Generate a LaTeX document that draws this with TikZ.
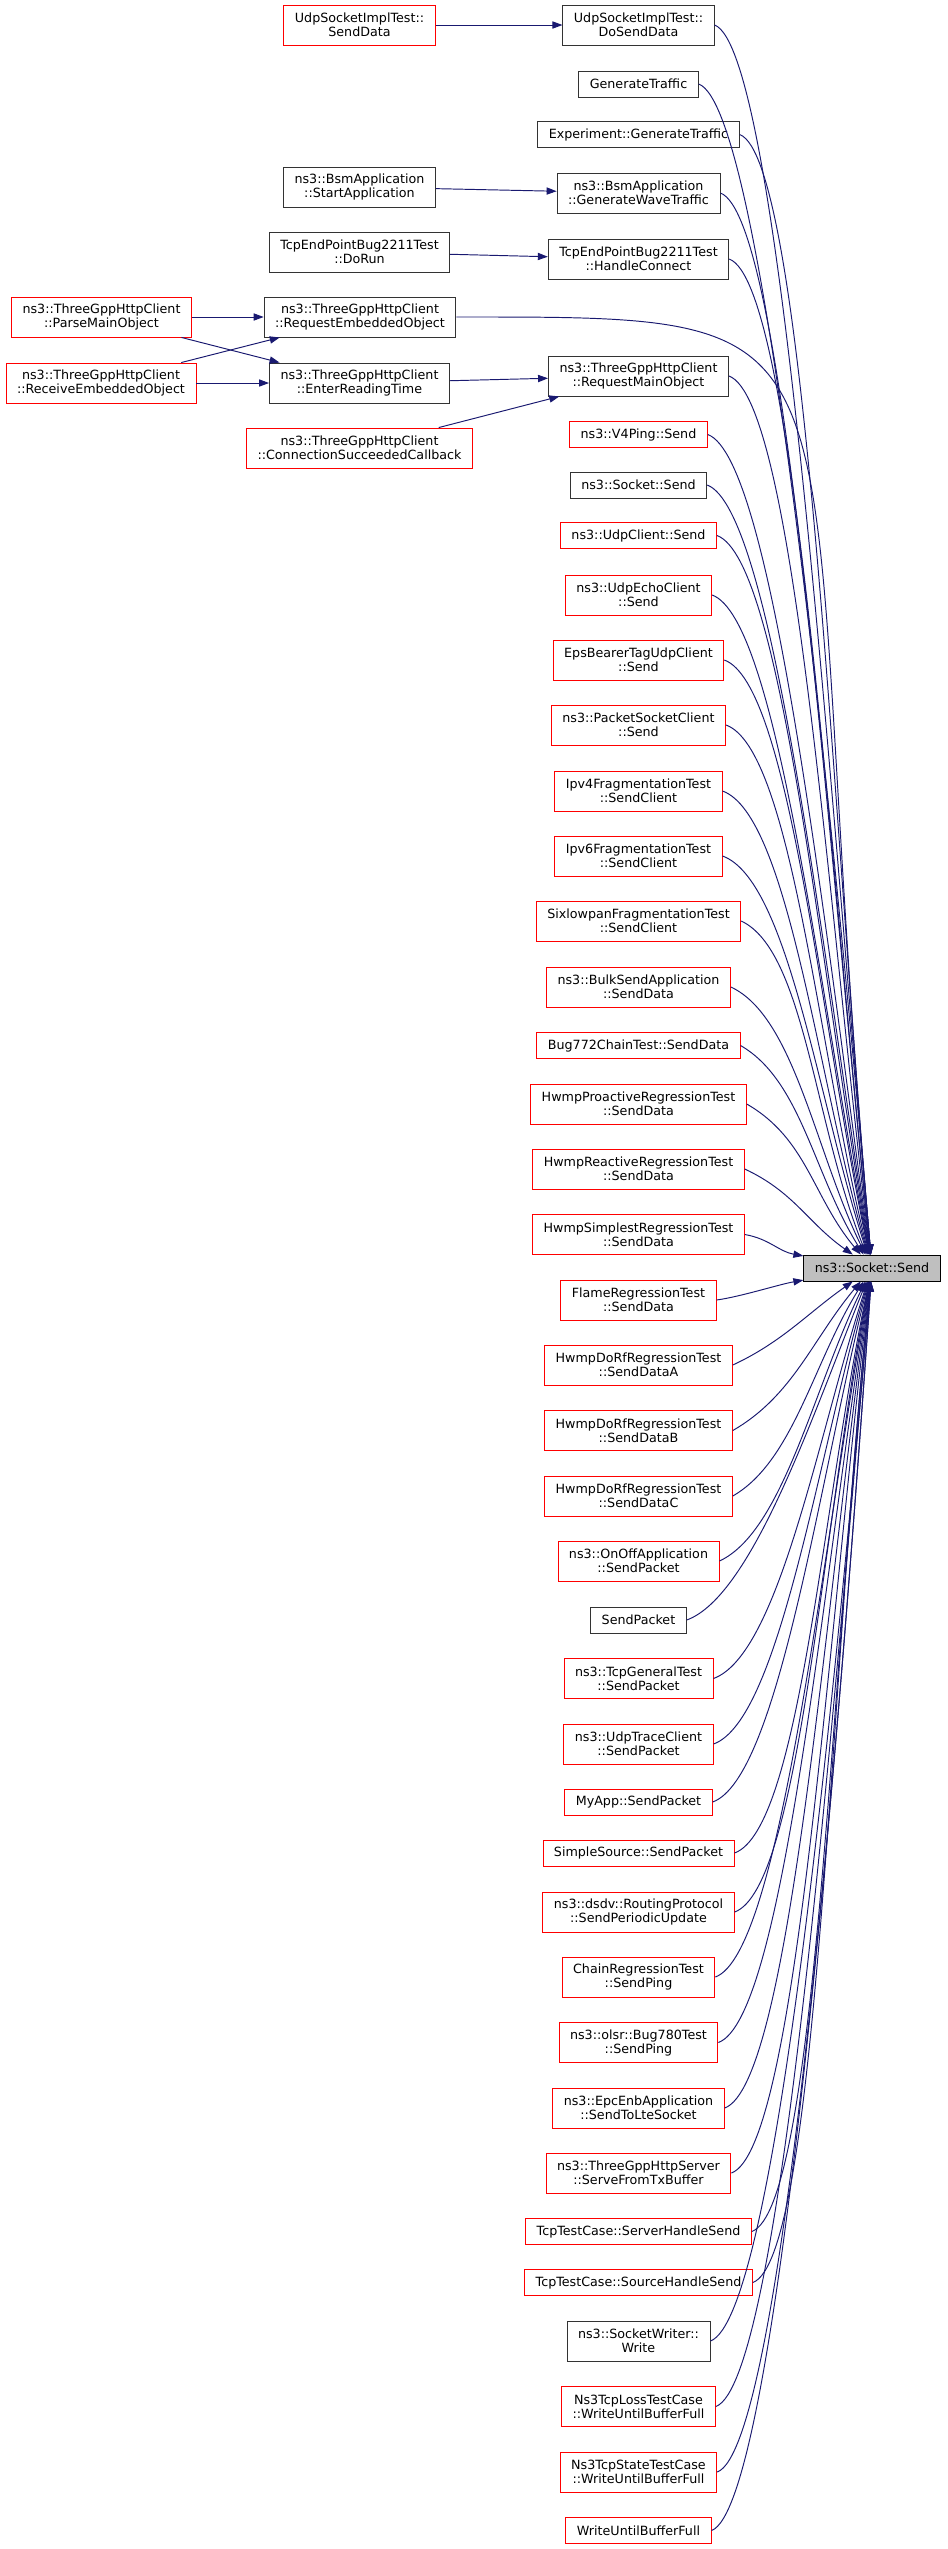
\documentclass[tikz,border=0pt]{standalone}
\usepackage{fontspec}
\setmainfont{DejaVu Sans}
\usepackage{xcolor}
\usetikzlibrary{arrows.meta}
\definecolor{edgeblue}{RGB}{25,25,112}
\definecolor{boxgray}{RGB}{191,191,191}

\begin{document}
% one unit is one pixel of the graph, drawn at a quarter point
\begin{tikzpicture}[x=0.25pt, y=0.25pt,
    fn/.style={draw=black!80, line width=0.225pt, fill=white, align=center,
      inner xsep=2.75pt, inner ysep=0.5pt, minimum height=6.5pt,
      font=\fontsize{3.175}{3.5}\selectfont},
    fnred/.style={fn, draw=red},
    tall/.style={minimum height=10pt},
    call/.style={draw=edgeblue, line width=0.24pt, -{Triangle[length=2.5pt,width=1.8pt]}}]
  \fill[white, use as bounding box] (0,0) rectangle (947,-2549);

  % callers of the callers
  \node[fnred, tall] (parseMain) at (101.5,-317) {ns3::ThreeGppHttpClient\\::ParseMainObject};
  \node[fnred, tall] (receiveEmb) at (101,-383) {ns3::ThreeGppHttpClient\\::ReceiveEmbeddedObject};

  \node[fnred, tall] (sendData) at (359.5,-25) {UdpSocketImplTest::\\SendData};
  \node[fn, tall] (startApp) at (359.5,-187) {ns3::BsmApplication\\::StartApplication};
  \node[fn, tall] (doRun) at (359.5,-252) {TcpEndPointBug2211Test\\::DoRun};
  \node[fn, tall] (reqEmb) at (360,-317) {ns3::ThreeGppHttpClient\\::RequestEmbeddedObject};
  \node[fn, tall] (enterRead) at (359.5,-383) {ns3::ThreeGppHttpClient\\::EnterReadingTime};
  \node[fnred, tall] (connSucc) at (359.5,-448) {ns3::ThreeGppHttpClient\\::ConnectionSucceededCallback};

  % direct callers
  \node[fn, tall] (doSendData) at (638.5,-25) {UdpSocketImplTest::\\DoSendData};
  \node[fn] (genTraffic) at (638.5,-84) {GenerateTraffic};
  \node[fn] (expGen) at (638.5,-134.5) {Experiment::GenerateTraffic};
  \node[fn, tall] (genWave) at (638.5,-193) {ns3::BsmApplication\\::GenerateWaveTraffic};
  \node[fn, tall] (handleConn) at (638.5,-259) {TcpEndPointBug2211Test\\::HandleConnect};
  \node[fn, tall] (reqMain) at (638.5,-376) {ns3::ThreeGppHttpClient\\::RequestMainObject};
  \node[fnred] (v4ping) at (638.5,-434.5) {ns3::V4Ping::Send};
  \node[fn] (sockSend) at (638.5,-485) {ns3::Socket::Send};
  \node[fnred] (udpClient) at (638.5,-535.5) {ns3::UdpClient::Send};
  \node[fnred, tall] (udpEcho) at (638.5,-595) {ns3::UdpEchoClient\\::Send};
  \node[fnred, tall] (epsBearer) at (638.5,-660) {EpsBearerTagUdpClient\\::Send};
  \node[fnred, tall] (packetSock) at (638.5,-725) {ns3::PacketSocketClient\\::Send};
  \node[fnred, tall] (ipv4Frag) at (638.5,-791) {Ipv4FragmentationTest\\::SendClient};
  \node[fnred, tall] (ipv6Frag) at (638.5,-856) {Ipv6FragmentationTest\\::SendClient};
  \node[fnred, tall] (sixlowpan) at (638.5,-921) {SixlowpanFragmentationTest\\::SendClient};
  \node[fnred, tall] (bulkSend) at (638.5,-987) {ns3::BulkSendApplication\\::SendData};
  \node[fnred] (bug772) at (638.5,-1045.5) {Bug772ChainTest::SendData};
  \node[fnred, tall] (hwmpPro) at (638.5,-1104) {HwmpProactiveRegressionTest\\::SendData};
  \node[fnred, tall] (hwmpRe) at (638.5,-1169) {HwmpReactiveRegressionTest\\::SendData};
  \node[fnred, tall] (hwmpSimp) at (638.5,-1234.5) {HwmpSimplestRegressionTest\\::SendData};
  \node[fnred, tall] (flame) at (638.5,-1300) {FlameRegressionTest\\::SendData};
  \node[fnred, tall] (doRfA) at (638.5,-1365) {HwmpDoRfRegressionTest\\::SendDataA};
  \node[fnred, tall] (doRfB) at (638.5,-1430.5) {HwmpDoRfRegressionTest\\::SendDataB};
  \node[fnred, tall] (doRfC) at (638.5,-1496) {HwmpDoRfRegressionTest\\::SendDataC};
  \node[fnred, tall] (onOff) at (638.5,-1561) {ns3::OnOffApplication\\::SendPacket};
  \node[fn] (sendPkt) at (638.5,-1620) {SendPacket};
  \node[fnred, tall] (tcpGen) at (638.5,-1678.5) {ns3::TcpGeneralTest\\::SendPacket};
  \node[fnred, tall] (udpTrace) at (638.5,-1744) {ns3::UdpTraceClient\\::SendPacket};
  \node[fnred] (myApp) at (638.5,-1802) {MyApp::SendPacket};
  \node[fnred] (simpleSrc) at (638.5,-1853) {SimpleSource::SendPacket};
  \node[fnred, tall] (dsdv) at (638.5,-1912) {ns3::dsdv::RoutingProtocol\\::SendPeriodicUpdate};
  \node[fnred, tall] (chainPing) at (638.5,-1977) {ChainRegressionTest\\::SendPing};
  \node[fnred, tall] (olsrPing) at (638.5,-2042.5) {ns3::olsr::Bug780Test\\::SendPing};
  \node[fnred, tall] (epcEnb) at (638.5,-2108) {ns3::EpcEnbApplication\\::SendToLteSocket};
  \node[fnred, tall] (httpServer) at (638.5,-2173) {ns3::ThreeGppHttpServer\\::ServeFromTxBuffer};
  \node[fnred] (serverHS) at (638.5,-2231.5) {TcpTestCase::ServerHandleSend};
  \node[fnred] (sourceHS) at (638.5,-2282.5) {TcpTestCase::SourceHandleSend};
  \node[fn, tall] (sockWriter) at (638.5,-2341) {ns3::SocketWriter::\\Write};
  \node[fnred, tall] (tcpLoss) at (638.5,-2406.5) {Ns3TcpLossTestCase\\::WriteUntilBufferFull};
  \node[fnred, tall] (tcpState) at (638.5,-2472) {Ns3TcpStateTestCase\\::WriteUntilBufferFull};
  \node[fnred] (writeUntil) at (638.5,-2530.5) {WriteUntilBufferFull};

  % the function itself
  \node[fn, draw=black, fill=boxgray] (send) at (872,-1268) {ns3::Socket::Send};

  \draw[call] (sendData) -- (doSendData);
  \draw[call] (startApp) -- (genWave);
  \draw[call] (doRun) -- (handleConn);
  \draw[call] (parseMain) -- (reqEmb);
  \draw[call] (parseMain) -- (enterRead);
  \draw[call] (receiveEmb) -- (reqEmb);
  \draw[call] (receiveEmb) -- (enterRead);
  \draw[call] (enterRead) -- (reqMain);
  \draw[call] (connSucc) -- (reqMain);
  \draw[call] (reqEmb.east) to[out=0, in=95, out distance=110pt, in distance=237pt] (send.95);

  % name/out angle/in angle/in distance (in pixels)
  \foreach \c/\o/\i/\d in {doSendData/-20/95/470, genTraffic/-20/95/450,
      expGen/-20/95/430, genWave/-20/96/410, handleConn/-20/96/385,
      reqMain/-20/97/340, v4ping/-20/98/320, sockSend/-20/99/300,
      udpClient/-20/100/280, udpEcho/-20/101/260, epsBearer/-20/102/235,
      packetSock/-20/104/210, ipv4Frag/-20/106/185, ipv6Frag/-20/108/160,
      sixlowpan/-25/112/140, bulkSend/-25/116/115, bug772/-30/122/95,
      hwmpPro/-30/130/75, hwmpRe/-25/145/55, hwmpSimp/-10/170/25,
      flame/8/190/25, doRfA/25/215/55, doRfB/30/230/75, doRfC/30/238/95,
      onOff/25/244/120, sendPkt/20/248/140, tcpGen/20/252/160,
      udpTrace/20/254/185, myApp/20/256/205, simpleSrc/20/258/225,
      dsdv/20/259/250, chainPing/20/260/275, olsrPing/20/261/300,
      epcEnb/20/262/325, httpServer/20/263/350, serverHS/20/264/370,
      sourceHS/20/264/390, sockWriter/20/265/410, tcpLoss/20/265/435,
      tcpState/20/266/460, writeUntil/20/266/480}
  {
    \pgfmathsetmacro\od{min(70,\d)/4}
    \pgfmathsetmacro\id{\d/4}
    \draw[call] (\c.east) to[out=\o, in=\i, out distance=\od pt, in distance=\id pt] (send.\i);
  }
\end{tikzpicture}
\end{document}
